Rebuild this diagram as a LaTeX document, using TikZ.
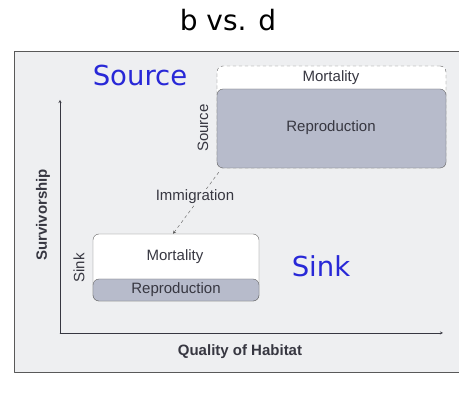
\documentclass[tikz,border=0pt]{standalone}
\usepackage{fontspec}
\setmainfont{Liberation Sans}
\newfontfamily\titlefont{DejaVu Sans}
\definecolor{panelbg}{RGB}{238,239,241}
\definecolor{repfill}{RGB}{183,187,203}
\definecolor{txtgray}{RGB}{55,55,65}
\definecolor{bigblue}{RGB}{40,40,215}
\begin{document}
\begin{tikzpicture}[x=1pt,y=-1pt,>=stealth, font=\fontsize{15}{18}\selectfont, line join=round, line cap=round,
	box/.style={draw=gray!80!black, rounded corners=6pt, inner sep=0pt},
	lbl/.style={text=txtgray, inner sep=1pt},
	axlbl/.style={lbl, font=\fontsize{15}{18}\selectfont\bfseries},
	big/.style={text=bigblue, font=\titlefont\fontsize{27.5}{32}\selectfont}]
	\useasboundingbox (0,0) rectangle (459,393);
	\fill[panelbg] (14,51) rectangle (470,372);
	\draw[gray!70!black] (470,51) -- (14,51) -- (14,372) -- (470,372);
	\node[font=\titlefont\fontsize{28}{32}\selectfont] (title) at (228,20) {b vs. d};
	% Axes
	\coordinate (O) at (60,333);
	\draw[->, txtgray] (O) -- (60,100);
	\draw[->, txtgray] (O) -- (443,333);
	\node[axlbl, rotate=90] (yl) at (43,215) {Survivorship};
	\node[axlbl] (xl) at (240,352) {Quality of Habitat};
	% Source
	\node[box, dashed, fill=white, minimum width=229pt, minimum height=102pt] (srcmort) at (331.5,117) {};
	\node[box, fill=repfill, minimum width=229pt, minimum height=79pt] (srcrep) at (331.5,128.5) {};
	\node[lbl] (srcmorttxt) at (331,78) {Mortality};
	\node[lbl] (srcreptxt) at (331,128) {Reproduction};
	\node[lbl, rotate=90] (srclbl) at (203,128) {Source};
	% Sink
	\node[box, fill=white, minimum width=166pt, minimum height=67pt] (sinkbox) at (176,267.5) {};
	\node[box, fill=repfill, minimum width=166pt, minimum height=22pt] (sinkrep) at (176,290) {};
	\node[lbl] (sinkmorttxt) at (175,257) {Mortality};
	\node[lbl] (sinkreptxt) at (176,290) {Reproduction};
	\node[lbl, rotate=90] (sinklbl) at (79,268) {Sink};
	% Immigration
	\draw[dashed, ->, gray!70!black] ([shift={(2pt,-4pt)}]srcrep.south west) -- ([xshift=-3pt]sinkbox.north);
	\node[lbl, fill=panelbg] (imm) at (195,197) {Immigration};
	\node[big] (bigsrc) at (140,75) {Source};
	\node[big] (bigsink) at (321,266) {Sink};
\end{tikzpicture}
\end{document}
